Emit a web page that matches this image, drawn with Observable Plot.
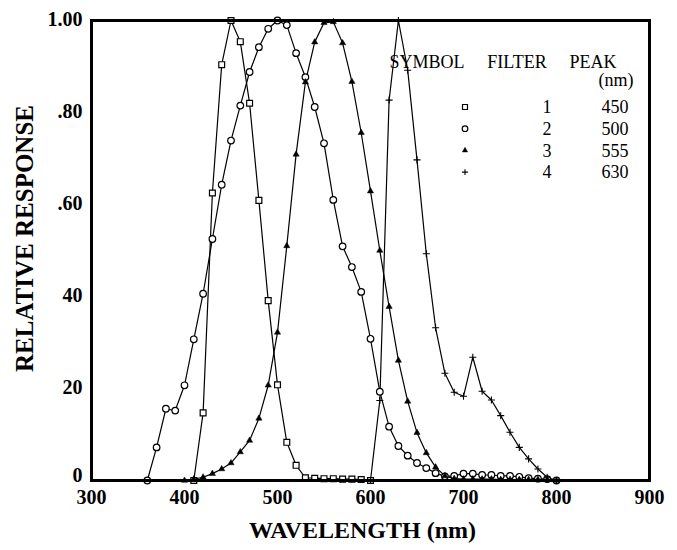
<!DOCTYPE html>
<html>
<head>
<meta charset="utf-8">
<script src="https://cdn.jsdelivr.net/npm/d3@7"></script>
<script src="https://cdn.jsdelivr.net/npm/@observablehq/plot@0.6"></script>
<style>
  body { margin: 0; background: #fff; }
  svg { display: block; }
</style>
</head>
<body>
<div id="chart"></div>
<script>
// Relative spectral response of four filters, sampled every 10 nm.
const nm1   = [410, 420, 430, 440, 450, 460, 470, 480, 490, 500, 510, 520, 530, 540, 550, 560, 570, 580, 590, 600];
const resp1 = [0, 0.147, 0.625, 0.904, 1.0, 0.954, 0.82, 0.609, 0.391, 0.208, 0.083, 0.033, 0.006, 0.005, 0.004, 0.004, 0.003, 0.003, 0.002, 0];

const nm2   = [360, 370, 380, 390, 400, 410, 420, 430, 440, 450, 460, 470, 480, 490, 500, 510, 520, 530, 540, 550,
               560, 570, 580, 590, 600, 610, 620, 630, 640, 650, 660, 670, 680, 690, 700, 710, 720, 730, 740, 750,
               760, 770, 780, 790, 800];
const resp2 = [0, 0.072, 0.156, 0.152, 0.207, 0.307, 0.406, 0.525, 0.643, 0.739, 0.815, 0.888, 0.942, 0.982, 1.0, 0.99, 0.929, 0.877, 0.812, 0.733,
               0.61, 0.509, 0.464, 0.41, 0.308, 0.193, 0.117, 0.075, 0.054, 0.038, 0.027, 0.016, 0.009, 0.01, 0.015, 0.015, 0.012, 0.012, 0.01, 0.01,
               0.008, 0.005, 0.004, 0.003, 0];

const nm3   = [400, 410, 420, 430, 440, 450, 460, 470, 480, 490, 500, 510, 520, 530, 540, 550, 560, 570, 580, 590,
               600, 610, 620, 630, 640, 650, 660, 670, 680, 690, 700, 710, 720, 730, 740, 750, 760, 770, 780, 790, 800];
const resp3 = [0, 0.003, 0.007, 0.015, 0.025, 0.038, 0.062, 0.087, 0.135, 0.207, 0.322, 0.51, 0.709, 0.866, 0.953, 0.995, 0.997, 0.951, 0.867, 0.756,
               0.629, 0.5, 0.378, 0.261, 0.172, 0.104, 0.06, 0.029, 0.01, 0.004, 0.003, 0.003, 0.003, 0.003, 0.002, 0.002, 0.002, 0.002, 0.002, 0.002, 0];

const nm4   = [600, 610, 620, 630, 640, 650, 660, 670, 680, 690, 700, 710, 720, 730, 740, 750, 760, 770, 780, 790, 800];
const resp4 = [0, 0.174, 0.827, 1.0, 0.892, 0.697, 0.493, 0.332, 0.233, 0.192, 0.183, 0.268, 0.194, 0.175, 0.141, 0.105, 0.072, 0.047, 0.025, 0.007, 0];

// Legend table
const filters = ["1", "2", "3", "4"];
const peaks = ["450", "500", "555", "630"];
const symbols = ["square", "circle", "triangle", "plus"];

// Axis ticks and their printed labels
const xTicks = [300, 400, 500, 600, 700, 800, 900];
const yTicks = [0, 0.2, 0.4, 0.6, 0.8, 1.0];
const yTickLabels = ["0", "20", "40", ".60", ".80", "1.00"];

const series = [
  {filter: filters[0], nm: nm1, resp: resp1, symbol: symbols[0]},
  {filter: filters[1], nm: nm2, resp: resp2, symbol: symbols[1]},
  {filter: filters[2], nm: nm3, resp: resp3, symbol: symbols[2]},
  {filter: filters[3], nm: nm4, resp: resp4, symbol: symbols[3]}
];
const rows = series.flatMap(s => s.nm.map((x, i) => ({filter: s.filter, nm: x, resp: s.resp[i]})));
const yLabelOf = new Map(yTicks.map((t, i) => [t, yTickLabels[i]]));

const serif = "'Liberation Serif', 'DejaVu Serif', serif";

// Marker style per symbol
const markStyle = {
  square:   {r: 3.3, fill: "white", stroke: "black", strokeWidth: 1.2},
  circle:   {r: 3.3, fill: "white", stroke: "black", strokeWidth: 1.2},
  triangle: {r: 2.3, fill: "black", stroke: "black", strokeWidth: 0.5},
  plus:     {r: 2.4, fill: "none",  stroke: "black", strokeWidth: 1.1}
};

const yAxisStyle = {tickFormat: d => yLabelOf.get(d), tickSize: 0, tickPadding: 9, fontSize: 20, fontWeight: "bold", label: null};

const chart = Plot.plot({
  width: 677,
  height: 550,
  marginLeft: 91,
  marginRight: 28,
  marginTop: 20,
  marginBottom: 70,
  style: {fontFamily: serif, background: "white", color: "black"},
  x: {domain: [300, 900]},
  y: {domain: [0, 1]},
  marks: [
    Plot.line(rows, {x: "nm", y: "resp", z: "filter", stroke: "black", strokeWidth: 1.2}),
    ...series.map(s => Plot.dot(rows.filter(d => d.filter === s.filter), {
      x: "nm", y: "resp", symbol: () => s.symbol, ...markStyle[s.symbol]
    })),
    Plot.frame({stroke: "black", strokeWidth: 3}),
    Plot.axisX({ticks: xTicks, tickSize: 0, tickPadding: 9, fontSize: 20, fontWeight: "bold", label: null}),
    // the zero label sits a little above the baseline, clear of the x labels
    Plot.axisY({...yAxisStyle, ticks: yTicks.slice(1), dy: -1}),
    Plot.axisY({...yAxisStyle, ticks: yTicks.slice(0, 1), dy: -5}),
    Plot.text(["RELATIVE RESPONSE"], {frameAnchor: "left", textAnchor: "middle", lineAnchor: "middle", rotate: -90, dx: -67, dy: -12, fontSize: 25, fontWeight: "bold"}),
    Plot.text(["WAVELENGTH (nm)"], {frameAnchor: "bottom", textAnchor: "middle", lineAnchor: "middle", dy: 50, dx: -8, fontSize: 24, fontWeight: "bold"})
  ]
});

// Symbol / filter / peak table drawn inside the frame
const svg = d3.select(chart);
const legend = svg.append("g")
  .attr("font-family", serif)
  .attr("font-size", 18)
  .attr("fill", "black");

const header = [["SYMBOL", 427], ["FILTER", 517], ["PEAK", 593]];
legend.selectAll("text.head").data(header).join("text")
  .attr("x", d => d[1]).attr("y", 62).attr("dy", "0.35em")
  .text(d => d[0]);
legend.append("text").attr("x", 616).attr("y", 80).attr("dy", "0.35em")
  .attr("text-anchor", "middle").text("(nm)");

const rowY = i => 107 + i * 21.7;
const d3Sym = {square: d3.symbolSquare, circle: d3.symbolCircle, triangle: d3.symbolTriangle, plus: d3.symbolPlus};
filters.forEach((f, i) => {
  const st = markStyle[symbols[i]];
  const r = st.r * 0.85;
  legend.append("path")
    .attr("transform", `translate(465,${rowY(i)})`)
    .attr("d", d3.symbol(d3Sym[symbols[i]], Math.PI * r * r)())
    .attr("fill", st.fill).attr("stroke", st.stroke).attr("stroke-width", st.strokeWidth);
  legend.append("text").attr("x", 547).attr("y", rowY(i)).attr("dy", "0.35em")
    .attr("text-anchor", "middle").text(f);
  legend.append("text").attr("x", 615).attr("y", rowY(i)).attr("dy", "0.35em")
    .attr("text-anchor", "middle").text(peaks[i]);
});

document.getElementById("chart").append(chart);
</script>
</body>
</html>
